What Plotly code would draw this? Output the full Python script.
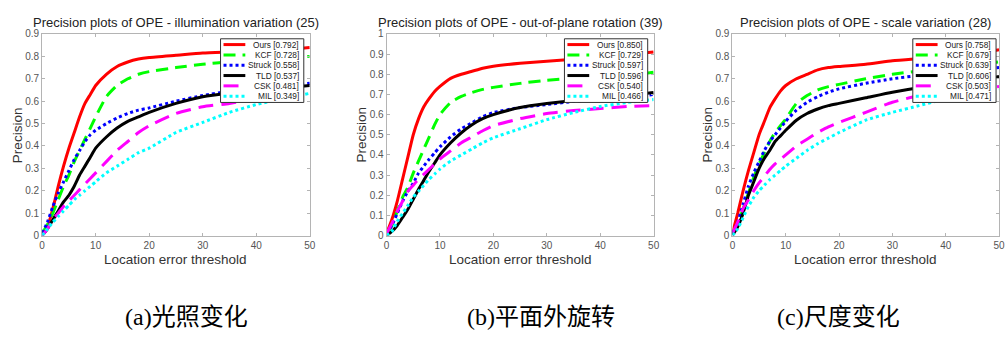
import plotly.graph_objects as go

W, H = 1008, 338

# ---------------- data ----------------
X = [0, 1, 2, 3, 4, 5, 6, 7, 8, 9, 10, 12, 14, 16, 18, 20, 25, 30, 35, 40, 45, 50]

trackers = ["Ours", "KCF", "Struck", "TLD", "CSK", "MIL"]

titles = [
    "Precision plots of OPE - illumination variation (25)",
    "Precision plots of OPE - out-of-plane rotation (39)",
    "Precision plots of OPE - scale variation (28)",
]
captions = ["(a)光照变化", "(b)平面外旋转", "(c)尺度变化"]

scores_a = ["0.792", "0.728", "0.558", "0.537", "0.481", "0.349"]
scores_b = ["0.850", "0.729", "0.597", "0.596", "0.540", "0.466"]
scores_c = ["0.758", "0.679", "0.639", "0.606", "0.503", "0.471"]

ours_a = [0.01, 0.04, 0.12, 0.22, 0.31, 0.39, 0.46, 0.53, 0.59, 0.63, 0.67, 0.72, 0.755, 0.775, 0.788, 0.795, 0.805, 0.815, 0.82, 0.825, 0.83, 0.84]
kcf_a = [0.01, 0.05, 0.10, 0.16, 0.22, 0.27, 0.33, 0.38, 0.43, 0.48, 0.53, 0.62, 0.67, 0.70, 0.72, 0.732, 0.75, 0.765, 0.775, 0.78, 0.79, 0.80]
struck_a = [0.01, 0.06, 0.13, 0.19, 0.24, 0.29, 0.34, 0.38, 0.42, 0.45, 0.47, 0.50, 0.525, 0.545, 0.56, 0.57, 0.60, 0.625, 0.645, 0.66, 0.67, 0.68]
tld_a = [0.0, 0.03, 0.07, 0.11, 0.15, 0.18, 0.22, 0.27, 0.31, 0.35, 0.39, 0.44, 0.48, 0.51, 0.53, 0.55, 0.59, 0.62, 0.635, 0.645, 0.66, 0.67]
csk_a = [0.0, 0.03, 0.07, 0.10, 0.13, 0.155, 0.18, 0.205, 0.23, 0.255, 0.28, 0.33, 0.38, 0.42, 0.46, 0.49, 0.545, 0.575, 0.59, 0.61, 0.63, 0.65]
mil_a = [0.0, 0.03, 0.06, 0.085, 0.11, 0.135, 0.16, 0.18, 0.20, 0.22, 0.24, 0.28, 0.31, 0.34, 0.37, 0.39, 0.46, 0.505, 0.55, 0.585, 0.61, 0.635]

ours_b = [0.01, 0.08, 0.17, 0.28, 0.39, 0.50, 0.58, 0.64, 0.68, 0.715, 0.74, 0.78, 0.80, 0.815, 0.83, 0.84, 0.855, 0.865, 0.875, 0.885, 0.895, 0.91]
kcf_b = [0.01, 0.05, 0.12, 0.19, 0.24, 0.31, 0.37, 0.43, 0.49, 0.55, 0.60, 0.66, 0.69, 0.71, 0.725, 0.735, 0.755, 0.77, 0.78, 0.79, 0.795, 0.81]
struck_b = [0.01, 0.05, 0.11, 0.17, 0.22, 0.26, 0.31, 0.345, 0.38, 0.41, 0.44, 0.49, 0.53, 0.56, 0.59, 0.61, 0.635, 0.65, 0.665, 0.675, 0.685, 0.70]
tld_b = [0.0, 0.02, 0.05, 0.09, 0.13, 0.18, 0.23, 0.275, 0.32, 0.36, 0.40, 0.46, 0.51, 0.55, 0.58, 0.60, 0.635, 0.655, 0.67, 0.68, 0.695, 0.71]
csk_b = [0.01, 0.06, 0.12, 0.17, 0.22, 0.25, 0.28, 0.305, 0.33, 0.355, 0.38, 0.42, 0.46, 0.49, 0.52, 0.545, 0.58, 0.605, 0.62, 0.63, 0.64, 0.645]
mil_b = [0.0, 0.02, 0.07, 0.11, 0.15, 0.19, 0.22, 0.25, 0.28, 0.305, 0.33, 0.37, 0.40, 0.43, 0.46, 0.485, 0.53, 0.575, 0.61, 0.64, 0.66, 0.675]

ours_c = [0.01, 0.10, 0.20, 0.29, 0.37, 0.45, 0.51, 0.57, 0.61, 0.645, 0.67, 0.70, 0.72, 0.74, 0.75, 0.755, 0.765, 0.78, 0.79, 0.80, 0.81, 0.83]
kcf_c = [0.01, 0.05, 0.12, 0.19, 0.26, 0.32, 0.37, 0.42, 0.46, 0.49, 0.52, 0.59, 0.625, 0.65, 0.665, 0.675, 0.70, 0.72, 0.735, 0.75, 0.76, 0.775]
struck_c = [0.01, 0.06, 0.14, 0.22, 0.28, 0.33, 0.38, 0.42, 0.45, 0.48, 0.51, 0.56, 0.595, 0.62, 0.64, 0.655, 0.68, 0.70, 0.715, 0.73, 0.74, 0.75]
tld_c = [0.0, 0.04, 0.10, 0.18, 0.24, 0.30, 0.345, 0.38, 0.42, 0.445, 0.47, 0.515, 0.545, 0.565, 0.58, 0.59, 0.615, 0.64, 0.66, 0.675, 0.69, 0.71]
csk_c = [0.01, 0.06, 0.12, 0.16, 0.20, 0.235, 0.265, 0.295, 0.32, 0.34, 0.36, 0.40, 0.43, 0.46, 0.485, 0.505, 0.55, 0.595, 0.625, 0.645, 0.655, 0.665]
mil_c = [0.0, 0.03, 0.08, 0.13, 0.17, 0.20, 0.225, 0.25, 0.27, 0.29, 0.31, 0.345, 0.38, 0.41, 0.435, 0.46, 0.515, 0.55, 0.58, 0.61, 0.63, 0.65]

panels = [
    dict(series=[ours_a, kcf_a, struck_a, tld_a, csk_a, mil_a], scores=scores_a, ymax=0.9),
    dict(series=[ours_b, kcf_b, struck_b, tld_b, csk_b, mil_b], scores=scores_b, ymax=1.0),
    dict(series=[ours_c, kcf_c, struck_c, tld_c, csk_c, mil_c], scores=scores_c, ymax=0.9),
]

# ---------------- styles ----------------
colors = ["#ff0000", "#00ff00", "#0000ff", "#000000", "#ff00ff", "#00ffff"]
dashes = ["solid", "12px,7px", "3px,3px", "solid", "15px,8px", "3px,3px"]
LW = 3

# axis pixel boxes (left, right) ; top/bottom shared
ax_px = [(39.5, 309.5), (387, 656.5), (736, 1005)]
top_px, bot_px = 29, 238
caption_cx = [185, 543, 843]

def px(x):
    return x / W

def py(y):
    return 1 - y / H

fig = go.Figure()
shapes = []
annotations = []
axis_font = "Liberation Sans, Arial, sans-serif"

for i, p in enumerate(panels):
    sfx = "" if i == 0 else str(i + 1)
    xa, ya = "x" + sfx, "y" + sfx
    for k, name in enumerate(trackers):
        fig.add_trace(go.Scatter(
            x=X, y=p["series"][k], mode="lines", name=name,
            line=dict(color=colors[k], width=LW, dash=dashes[k], shape="spline", smoothing=0.5),
            xaxis=xa, yaxis=ya, showlegend=False, hoverinfo="skip",
        ))
    l, r = ax_px[i]
    ymax = p["ymax"]
    nt = int(round(ymax * 10))
    common = dict(
        showline=True, mirror="ticks", linecolor="#b4b4b4", linewidth=1,
        ticks="inside", ticklen=3, tickcolor="#b4b4b4",
        showgrid=False, zeroline=False,
        tickfont=dict(family=axis_font, size=10, color="#555555"),
    )
    fig.layout["xaxis" + sfx] = dict(
        domain=[px(l), px(r)], range=[0, 50], anchor=ya,
        tickvals=[0, 10, 20, 30, 40, 50], ticktext=["0", "10", "20", "30", "40", "50"],
        **common,
    )
    yt = [round(j / 10, 1) for j in range(nt + 1)]
    fig.layout["yaxis" + sfx] = dict(
        domain=[py(bot_px), py(top_px)], range=[0, ymax], anchor=xa,
        tickvals=yt, ticktext=["0" if v == 0 else ("1" if v == 1 else f"{v:g}") for v in yt],
        **common,
    )
    cx = (l + r) / 2
    # title
    annotations.append(dict(
        text=titles[i], x=px(cx), y=py(17.5), xref="paper", yref="paper",
        showarrow=False, xanchor="center", yanchor="middle",
        font=dict(family=axis_font, size=13, color="#222222"),
    ))
    # x-axis title
    annotations.append(dict(
        text="Location error threshold", x=px(cx), y=py(263), xref="paper", yref="paper",
        showarrow=False, xanchor="center", yanchor="middle",
        font=dict(family=axis_font, size=13.5, color="#333333"),
    ))
    # y-axis title
    annotations.append(dict(
        text="Precision", x=px(l - 25), y=py((top_px + bot_px) / 2), xref="paper", yref="paper",
        showarrow=False, xanchor="center", yanchor="middle", textangle=-90,
        font=dict(family=axis_font, size=13.5, color="#333333"),
    ))
    # caption
    annotations.append(dict(
        text=captions[i], x=px(caption_cx[i]), y=py(322), xref="paper", yref="paper",
        showarrow=False, xanchor="center", yanchor="middle",
        font=dict(family="Liberation Serif, Noto Sans CJK SC, serif", size=24, color="#000000"),
    ))
    # legend box (decoration)
    lr = r - 6 if i < 2 else r - 3
    lw_, lh = 84, 66
    ll, lt = lr - lw_, top_px + 5
    shapes.append(dict(type="rect", xref="paper", yref="paper",
                       x0=px(ll), x1=px(lr), y0=py(lt), y1=py(lt + lh),
                       fillcolor="white", line=dict(color="#333333", width=1), layer="above"))
    for k, name in enumerate(trackers):
        yy = lt + 6 + k * 10.7
        shapes.append(dict(type="line", xref="paper", yref="paper",
                           x0=px(ll + 3), x1=px(ll + 25), y0=py(yy), y1=py(yy),
                           line=dict(color=colors[k], width=LW, dash=dashes[k]), layer="above"))
        annotations.append(dict(
            text=f"{name} [{p['scores'][k]}]", x=px(lr - 3), y=py(yy), xref="paper", yref="paper",
            showarrow=False, xanchor="right", yanchor="middle",
            font=dict(family=axis_font, size=8.3, color="#222222"),
        ))

fig.update_layout(
    width=W, height=H, margin=dict(l=0, r=0, t=0, b=0),
    paper_bgcolor="white", plot_bgcolor="white",
    showlegend=False, shapes=shapes, annotations=annotations,
)

fig.write_html("out.html")
